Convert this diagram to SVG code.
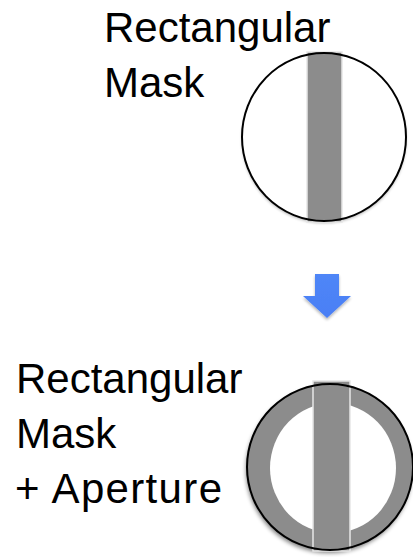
<svg xmlns="http://www.w3.org/2000/svg" width="413" height="557" viewBox="0 0 413 557">
  <defs>
    <filter id="shadow" x="-20%" y="-20%" width="140%" height="140%">
      <feGaussianBlur in="SourceAlpha" stdDeviation="2"/>
      <feOffset dx="-1.5" dy="3" result="b"/>
      <feComponentTransfer><feFuncA type="linear" slope="0.5"/></feComponentTransfer>
      <feMerge><feMergeNode/><feMergeNode in="SourceGraphic"/></feMerge>
    </filter>
    <filter id="soft" x="-20%" y="-20%" width="140%" height="140%">
      <feGaussianBlur in="SourceAlpha" stdDeviation="1.5"/>
      <feOffset dx="0" dy="2"/>
      <feComponentTransfer><feFuncA type="linear" slope="0.3"/></feComponentTransfer>
      <feMerge><feMergeNode/><feMergeNode in="SourceGraphic"/></feMerge>
    </filter>
    <linearGradient id="blue" x1="0" y1="0" x2="0" y2="1">
      <stop offset="0" stop-color="#4f86f7"/>
      <stop offset="1" stop-color="#4a7ff5"/>
    </linearGradient>
  </defs>
  <style>
    .label { font-family: "Liberation Sans", Arial, sans-serif; font-size: 42px; fill: #000; }
    .bar { fill: #8c8c8c; stroke: #e6e6e6; stroke-width: 1.5; }
    .rim { fill: none; stroke: #000; stroke-width: 2; }
  </style>

  <!-- upper mask: rectangular slit only -->
  <g id="rect-mask">
    <text class="label" x="104" y="42">Rectangular</text>
    <text class="label" x="104" y="97">Mask</text>
    <ellipse cx="324" cy="137" rx="82" ry="84" fill="#fff" filter="url(#soft)"/>
    <rect class="bar" x="307" y="52" width="35" height="170"/>
    <ellipse class="rim" cx="324" cy="137" rx="82" ry="84"/>
  </g>

  <!-- transition arrow -->
  <g id="connectors">
    <path d="M315,274 H339 V296 H351 L327,318 L303,296 H315 Z" fill="url(#blue)" filter="url(#soft)"/>
  </g>

  <!-- lower mask: slit plus circular aperture -->
  <g id="rect-mask-aperture">
    <text class="label" x="16" y="393">Rectangular</text>
    <text class="label" x="16" y="448">Mask</text>
    <text class="label" x="15" y="503" textLength="207" lengthAdjust="spacing">+ Aperture</text>
    <circle cx="330" cy="467" r="83" fill="#8c8c8c" filter="url(#shadow)"/>
    <ellipse cx="333" cy="468" rx="63" ry="65" fill="#fff"/>
    <rect class="bar" x="313" y="381" width="37" height="170" stroke="#fff" stroke-width="2"/>
    <circle class="rim" cx="330" cy="467" r="83"/>
  </g>
</svg>
